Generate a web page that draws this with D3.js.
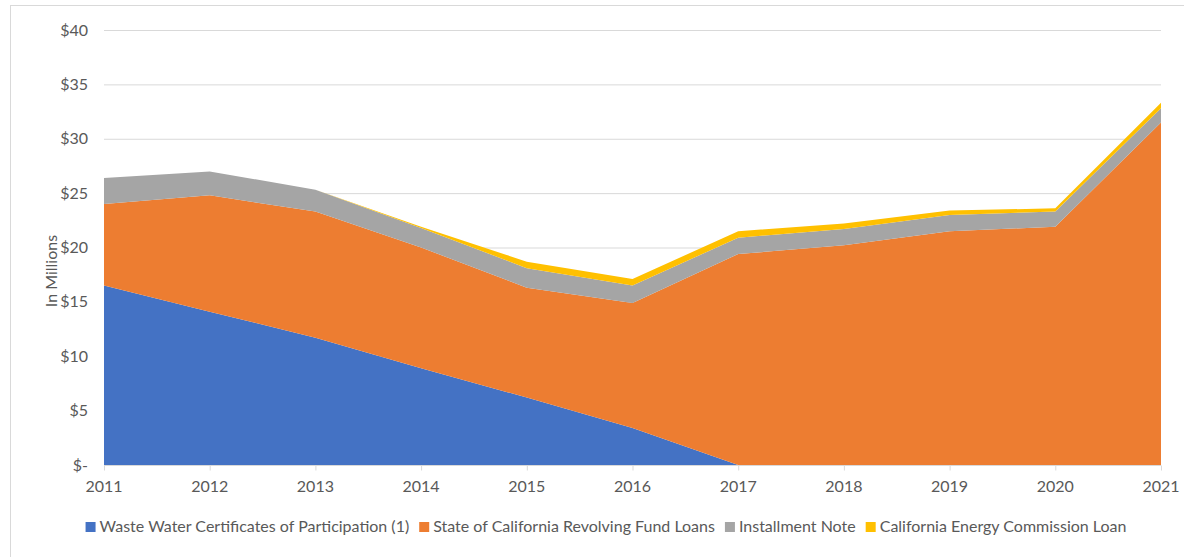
<!DOCTYPE html>
<html>
<head>
<meta charset="utf-8">
<script src="https://cdn.jsdelivr.net/npm/d3@7"></script>
<style>
  body { margin: 0; background: #fff; }
  text { font-family: Lato, "Open Sans", sans-serif; fill: #595959; }
</style>
</head>
<body>
<script>
const years = ["2011","2012","2013","2014","2015","2016","2017","2018","2019","2020","2021"];
const seriesNames = [
  "Waste Water Certificates of Participation (1)",
  "State of California Revolving Fund Loans",
  "Installment Note",
  "California Energy Commission Loan"
];
const wasteWater = [16.5, 14.1, 11.7, 8.9, 6.2, 3.4, 0, 0, 0, 0, 0];
const revolving  = [7.5, 10.7, 11.6, 11.1, 10.1, 11.5, 19.4, 20.2, 21.5, 21.9, 31.5];
const installment = [2.4, 2.2, 2.0, 1.8, 1.8, 1.6, 1.5, 1.5, 1.5, 1.4, 1.3];
const energy = [0, 0, 0, 0.1, 0.6, 0.6, 0.6, 0.5, 0.4, 0.3, 0.5];
const yTicks = [0, 5, 10, 15, 20, 25, 30, 35, 40];
const colors = ["#4472c4", "#ed7d31", "#a5a5a5", "#ffc000"];

const width = 1184, height = 557;
const svg = d3.select("body").append("svg")
  .attr("width", width)
  .attr("height", height);

// chart frame
svg.append("rect")
  .attr("x", 10.5).attr("y", 5.5)
  .attr("width", 1180).attr("height", 560)
  .attr("fill", "#fff")
  .attr("stroke", "#d9d9d9");

const x = d3.scalePoint().domain(years).range([104, 1161]);
const y = d3.scaleLinear().domain([0, 40]).range([465, 30]);

const rows = years.map((yr, i) => ({
  year: yr, s0: wasteWater[i], s1: revolving[i], s2: installment[i], s3: energy[i]
}));
const stacked = d3.stack().keys(["s0","s1","s2","s3"])(rows);

// gridlines
svg.append("g")
  .selectAll("line")
  .data(yTicks.filter(d => d > 0))
  .enter().append("line")
  .attr("x1", 104).attr("x2", 1161)
  .attr("y1", d => y(d) + 0.5).attr("y2", d => y(d) + 0.5)
  .attr("stroke", "#d9d9d9");

const area = d3.area()
  .x(d => x(d.data.year))
  .y0(d => y(d[0]))
  .y1(d => y(d[1]));

svg.append("g")
  .selectAll("path")
  .data(stacked)
  .enter().append("path")
  .attr("d", area)
  .attr("fill", (d, i) => colors[i]);

// y axis labels
svg.append("g")
  .selectAll("text")
  .data(yTicks)
  .enter().append("text")
  .attr("x", 88)
  .attr("y", d => y(d) + 5.5)
  .attr("text-anchor", "end")
  .style("font-size", "16px")
  .text(d => d === 0 ? "$-" : "$" + d);

// x axis
const xAxis = svg.append("g").attr("transform", "translate(0,465.5)");
xAxis.append("line")
  .attr("x1", 104).attr("x2", 1161)
  .attr("stroke", "#d9d9d9");
xAxis.selectAll("line.tick")
  .data(years)
  .enter().append("line")
  .classed("tick", true)
  .attr("x1", d => x(d) + 0.5).attr("x2", d => x(d) + 0.5)
  .attr("y1", 0).attr("y2", 5)
  .attr("stroke", "#d9d9d9");
xAxis.selectAll("text")
  .data(years)
  .enter().append("text")
  .attr("x", d => x(d))
  .attr("y", 26)
  .attr("text-anchor", "middle")
  .style("font-size", "16px")
  .text(d => d);

// y axis title
svg.append("text")
  .attr("transform", "translate(57,271) rotate(-90)")
  .attr("text-anchor", "middle")
  .style("font-size", "16px")
  .text("In Millions");

// legend
const legend = svg.append("g");
let lx = 0;
seriesNames.forEach((name, i) => {
  const g = legend.append("g").attr("transform", `translate(${lx},0)`);
  g.append("rect")
    .attr("x", 0).attr("y", -10)
    .attr("width", 10).attr("height", 10)
    .attr("fill", colors[i]);
  const t = g.append("text")
    .attr("x", 14).attr("y", 0)
    .style("font-size", "16px")
    .text(name);
  lx += 14 + t.node().getComputedTextLength() + 10;
});
const legendWidth = lx - 10;
legend.attr("transform", `translate(${606 - legendWidth / 2},532)`);
</script>
</body>
</html>
